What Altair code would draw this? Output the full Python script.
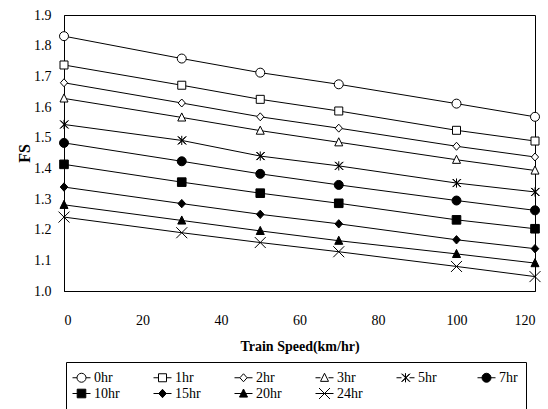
import altair as alt
import pandas as pd

speeds = [0, 30, 50, 70, 100, 120]
series_names = ["0hr", "1hr", "2hr", "3hr", "5hr", "7hr", "10hr", "15hr", "20hr", "24hr"]
fs_0hr = [1.831, 1.758, 1.712, 1.674, 1.611, 1.568]
fs_1hr = [1.737, 1.671, 1.625, 1.587, 1.524, 1.489]
fs_2hr = [1.679, 1.613, 1.568, 1.531, 1.472, 1.437]
fs_3hr = [1.628, 1.566, 1.523, 1.485, 1.428, 1.393]
fs_5hr = [1.543, 1.491, 1.440, 1.408, 1.352, 1.323]
fs_7hr = [1.483, 1.423, 1.382, 1.346, 1.295, 1.263]
fs_10hr = [1.413, 1.355, 1.319, 1.286, 1.232, 1.203]
fs_15hr = [1.339, 1.285, 1.250, 1.219, 1.167, 1.138]
fs_20hr = [1.281, 1.230, 1.196, 1.164, 1.121, 1.091]
fs_24hr = [1.241, 1.190, 1.158, 1.128, 1.080, 1.047]
all_fs = [fs_0hr, fs_1hr, fs_2hr, fs_3hr, fs_5hr, fs_7hr, fs_10hr, fs_15hr, fs_20hr, fs_24hr]
x_ticks = [0, 20, 40, 60, 80, 100, 120]
y_ticks = [1.0, 1.1, 1.2, 1.3, 1.4, 1.5, 1.6, 1.7, 1.8, 1.9]

rows = []
for name, vals in zip(series_names, all_fs):
    for s, v in zip(speeds, vals):
        rows.append({"series": name, "speed": s, "fs": v})
df = pd.DataFrame(rows)

fills = ["white", "white", "white", "white", "white", "black", "black", "black", "black", "black"]


def circle(r):
    return f"M{r},0A{r},{r},0,1,1,{-r},0A{r},{r},0,1,1,{r},0Z"


def square(h):
    return f"M{-h},{-h}H{h}V{h}H{-h}Z"


def diamond(w, h):
    return f"M0,{-h}L{w},0L0,{h}L{-w},0Z"


def triangle(w, h):
    return f"M0,{-h}L{w},{h*0.8}L{-w},{h*0.8}Z"


def xmark(h):
    return f"M{-h},{-h}L{h},{h}M{h},{-h}L{-h},{h}"


def star(h):
    d = round(h * 0.15, 4)
    return (xmark(h) + f"M{-h + d},{-h}L{h + d},{h}M{h + d},{-h}L{-h + d},{h}"
            + f"M0,{-h*1.15}V{h*1.15}")


def markers(u):
    p = lambda px: round(px / u, 4)
    return [
        circle(p(4.5)), square(p(4)), diamond(p(3.6), p(4)), triangle(p(4), p(4.5)),
        star(p(4)), circle(p(4.5)), square(p(4.3)), diamond(p(3.8), p(4.2)),
        triangle(p(4), p(4.5)), xmark(p(5.5)),
    ]


def with_stubs(paths, radii, u, half_len):
    out = []
    e = round(half_len / u, 4)
    for pth, r in zip(paths, radii):
        g = round(r / u, 4)
        out.append(f"M{-e},0H{-g}M{g},0H{e}" + pth)
    return out


pt_paths = markers(5.0)  # size 100 -> 5 px per unit
lg_unit = 7.0  # size 196 -> 7 px per unit
lg_paths = with_stubs(markers(lg_unit), [4.5, 4, 3.6, 4, 4, 0, 0, 0, 0, 0], lg_unit, 9.0)

serif = "Liberation Serif"

x_enc = alt.X("speed:Q", scale=alt.Scale(domain=[0, 120], nice=False),
              axis=alt.Axis(values=x_ticks, title="Train Speed(km/hr)",
                            labelFont=serif, labelFontSize=14, labelPadding=22,
                            titleFont=serif, titleFontSize=14, titleFontWeight="bold",
                            titlePadding=12, ticks=False, tickSize=0, grid=False,
                            labelOverlap=False,
                            domainColor="black", labelColor="black", titleColor="black"))
y_enc = alt.Y("fs:Q", scale=alt.Scale(domain=[1.0, 1.9], nice=False, zero=False),
              axis=alt.Axis(values=y_ticks,
                            format=".1f", title="FS", labelOverlap=False,
                            labelFont=serif, labelFontSize=14, labelPadding=13,
                            titleFont=serif, titleFontSize=16, titleFontWeight="bold",
                            titlePadding=1, ticks=False, tickSize=0, grid=False,
                            domainColor="black", labelColor="black", titleColor="black"))

base = alt.Chart(df)

lines = base.mark_line(color="black", strokeWidth=1).encode(
    x=x_enc, y=y_enc, detail="series:N"
)

points = base.mark_point(stroke="black", strokeWidth=1, size=100, opacity=1, filled=False).encode(
    x=x_enc, y=y_enc,
    shape=alt.Shape("series:N", scale=alt.Scale(domain=series_names, range=pt_paths), legend=None),
    fill=alt.Fill("series:N", scale=alt.Scale(domain=series_names, range=fills), legend=None),
)

legend_def = alt.Legend(title=None, orient="none", legendX=2, legendY=347, direction="horizontal",
                        columns=6, gridAlign="all", columnPadding=31,
                        rowPadding=1, symbolSize=196,
                        symbolStrokeColor="black", symbolStrokeWidth=1,
                        labelFont=serif, labelFontSize=14, labelColor="black",
                        labelOffset=5, padding=8, strokeColor="black")

legend_layer = base.transform_filter(alt.datum.speed < 0).mark_point(
    strokeWidth=1, size=196, opacity=1, filled=False
).encode(
    x=x_enc, y=y_enc,
    shape=alt.Shape("series:N", scale=alt.Scale(domain=series_names, range=lg_paths),
                    legend=legend_def),
    fill=alt.Fill("series:N", scale=alt.Scale(domain=series_names, range=fills),
                  legend=legend_def),
    stroke=alt.Stroke("series:N", scale=alt.Scale(domain=series_names, range=["black"] * 10),
                      legend=legend_def),
)

chart = alt.layer(lines, points, legend_layer).resolve_scale(
    shape="independent", fill="independent", stroke="independent"
).properties(
    width=471, height=276,
    autosize=alt.AutoSizeParams(type="none"),
    padding={"left": 64, "top": 15, "right": 13, "bottom": 118},
    background="white",
).configure_view(stroke="black", strokeWidth=1)

chart.save("out.html", embed_options={"renderer": "svg", "actions": False})
